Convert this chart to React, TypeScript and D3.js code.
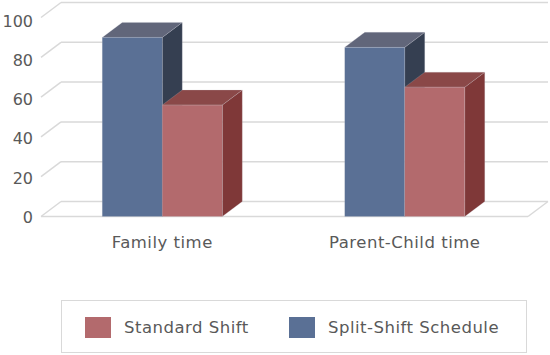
import React from "react";
import * as d3 from "d3";

const categories = ["Family time", "Parent-Child time"];
const seriesNames = ["Split-Shift Schedule", "Standard Shift"];
const splitShift = [90, 85];
const standardShift = [56, 65];
const yTicks = [0, 20, 40, 60, 80, 100];
const legendOrder = ["Standard Shift", "Split-Shift Schedule"];

const colors: Record<string, { front: string; top: string; side: string }> = {
  "Split-Shift Schedule": { front: "#5a7095", top: "#61667a", side: "#353f51" },
  "Standard Shift": { front: "#b36a6d", top: "#8a4848", side: "#7f3838" },
};

const W = 550;
const H = 355;
const DX = 20;
const DY = -15;
const FONT = "'DejaVu Sans', Verdana, sans-serif";
const TEXT = "#595959";
const GRID = "#d9d9d9";

export default function App() {
  const x = d3.scaleBand<string>().domain(categories).range([41, 526]).padding(0);
  const bw = x.bandwidth();
  const xs = d3.scaleBand<string>().domain(seriesNames).range([0, bw]).paddingInner(0).paddingOuter(1.02);
  const y = d3.scaleLinear().domain([0, 100]).range([216.5, 17.5]);
  const yLab = d3.scaleLinear().domain([0, 100]).range([217, 21]);
  const x0 = 41;
  const x1 = 528;
  const valuesBySeries: Record<string, number[]> = {
    "Split-Shift Schedule": splitShift,
    "Standard Shift": standardShift,
  };

  const bars: React.ReactNode[] = [];
  categories.forEach((c, ci) => {
    seriesNames.forEach((s) => {
      const v = valuesBySeries[s][ci];
      const l = (x(c) as number) + (xs(s) as number);
      const r = l + xs.bandwidth();
      const t = y(v);
      const b = y(0);
      const col = colors[s];
      const edge = "rgba(200,200,210,0.35)";
      bars.push(
        <g key={c + s}>
          <polygon
            points={`${r},${t} ${r + DX},${t + DY} ${r + DX},${b + DY} ${r},${b}`}
            fill={col.side}
            stroke={edge}
            strokeWidth={0.6}
          />
          <polygon
            points={`${l},${t} ${l + DX},${t + DY} ${r + DX},${t + DY} ${r},${t}`}
            fill={col.top}
            stroke={edge}
            strokeWidth={0.6}
          />
          <rect x={l} y={t} width={r - l} height={b - t} fill={col.front} stroke={edge} strokeWidth={0.6} />
        </g>
      );
    });
  });

  return (
    <svg
      width={W}
      height={H}
      style={{ position: "absolute", left: 0, top: 0, background: "#fff" }}
      fontFamily={FONT}
    >
      {yTicks.map((t) => (
        <g key={t}>
          <line x1={x0 + DX} x2={x1 + DX} y1={y(t) + DY} y2={y(t) + DY} stroke={GRID} strokeWidth={1.5} />
          <line x1={x0} x2={x0 + DX} y1={y(t)} y2={y(t) + DY} stroke={GRID} strokeWidth={1.5} />
        </g>
      ))}
      <line x1={x0} x2={x1} y1={y(0)} y2={y(0)} stroke={GRID} strokeWidth={1.5} />
      <line x1={x1} x2={x1 + DX} y1={y(0)} y2={y(0) + DY} stroke={GRID} strokeWidth={1.5} />
      {bars}
      {yTicks.map((t) => (
        <text key={"l" + t} x={33} y={yLab(t)} dy="0.36em" textAnchor="end" fontSize={16} fill={TEXT}>
          {t}
        </text>
      ))}
      {categories.map((c) => (
        <text
          key={c}
          x={(x(c) as number) + bw / 2}
          y={248}
          textAnchor="middle"
          fontSize={16.5}
          letterSpacing={0.5}
          fill={TEXT}
        >
          {c}
        </text>
      ))}
      <rect x={61.5} y={300.5} width={465} height={52} fill="#fff" stroke={GRID} strokeWidth={1} />
      {legendOrder.map((s, i) => {
        const lx = i === 0 ? 85 : 289;
        return (
          <g key={s}>
            <rect x={lx} y={317} width={26} height={21} fill={colors[s].front} />
            <text x={lx + 39} y={333} fontSize={16.5} letterSpacing={0.5} fill={TEXT}>
              {s}
            </text>
          </g>
        );
      })}
    </svg>
  );
}
